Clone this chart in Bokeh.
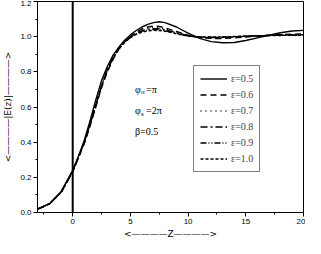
from bokeh.plotting import figure
from bokeh.models import Span, Legend, LegendItem, Range1d, FixedTicker, ColumnDataSource, Title
from bokeh.core.properties import value
from bokeh.embed import file_html
from bokeh.resources import INLINE

# ---- data ----
z = [-3, -2, -1, 0, 0.5, 1, 1.5, 2, 2.5, 3, 3.5, 4, 4.5, 5, 5.5, 6, 6.5, 7, 7.5, 8,
     9, 10, 11, 12, 13, 14, 15, 16, 17, 18, 19, 20]

e05 = [0.02, 0.05, 0.12, 0.24, 0.32, 0.41, 0.52, 0.64, 0.75, 0.83, 0.895, 0.94, 0.98, 1.01, 1.035,
       1.055, 1.07, 1.08, 1.085, 1.08, 1.055, 1.02, 0.99, 0.972, 0.965, 0.967, 0.978, 0.993,
       1.008, 1.022, 1.032, 1.036]
e06 = [0.02, 0.05, 0.115, 0.23, 0.31, 0.39, 0.49, 0.60, 0.71, 0.80, 0.87, 0.93, 0.97, 1.0, 1.025,
       1.045, 1.055, 1.06, 1.058, 1.05, 1.03, 1.008, 0.995, 0.99, 0.99, 0.993, 0.998, 1.003,
       1.008, 1.012, 1.014, 1.015]
e07 = [0.02, 0.05, 0.115, 0.235, 0.315, 0.40, 0.50, 0.61, 0.72, 0.81, 0.88, 0.935, 0.975, 1.0, 1.02,
       1.038, 1.048, 1.052, 1.05, 1.044, 1.025, 1.006, 0.996, 0.993, 0.994, 0.997, 1.001, 1.005,
       1.008, 1.010, 1.011, 1.012]
e08 = [0.02, 0.05, 0.115, 0.235, 0.315, 0.40, 0.50, 0.61, 0.72, 0.81, 0.88, 0.933, 0.972, 0.998, 1.018,
       1.034, 1.043, 1.046, 1.045, 1.04, 1.022, 1.005, 0.997, 0.995, 0.996, 0.999, 1.002, 1.005,
       1.007, 1.009, 1.010, 1.010]
e09 = [0.02, 0.05, 0.115, 0.235, 0.315, 0.40, 0.50, 0.61, 0.72, 0.81, 0.88, 0.932, 0.97, 0.996, 1.016,
       1.03, 1.038, 1.041, 1.04, 1.035, 1.019, 1.004, 0.998, 0.997, 0.998, 1.0, 1.003, 1.005,
       1.007, 1.008, 1.009, 1.009]
e10 = [0.02, 0.05, 0.115, 0.235, 0.315, 0.40, 0.50, 0.61, 0.72, 0.81, 0.88, 0.93, 0.968, 0.994, 1.013,
       1.026, 1.033, 1.036, 1.035, 1.031, 1.016, 1.003, 0.998, 0.998, 0.999, 1.001, 1.003, 1.005,
       1.006, 1.007, 1.008, 1.008]

series = [e05, e06, e07, e08, e09, e10]
labels = ["ε=0.5", "ε=0.6", "ε=0.7", "ε=0.8", "ε=0.9", "ε=1.0"]
dashes = ["solid", "6 4", "1 4", "7 3 2 3", "6 2 1 2 1 2", "3 2"]

x_ticks = [0, 5, 10, 15, 20]
y_ticks = [0.0, 0.2, 0.4, 0.6, 0.8, 1.0, 1.2]
y_tick_labels = ["0.0", "0.2", "0.4", "0.6", "0.8", "1.0", "1.2"]

ann_x = [5.4, 5.4, 5.4]
ann_y = [0.70, 0.58, 0.46]
ann_main = ["φ", "φ", "β=0.5"]
ann_sub = ["σ", "s"]
ann_rest = ["=π", "=2π"]

p = figure(width=305, height=238, x_range=Range1d(-3.05, 20), y_range=Range1d(0, 1.2),
           output_backend="svg", toolbar_location=None,
           min_border_left=26, min_border_right=2, min_border_top=1, min_border_bottom=0)

p.xgrid.visible = False
p.ygrid.visible = False
p.outline_line_color = "black"
p.outline_line_width = 1
p.background_fill_color = "white"
p.border_fill_color = "white"

for ax in (p.xaxis[0], p.yaxis[0]):
    ax.axis_line_color = "black"
    ax.major_tick_in = 0
    ax.major_tick_out = 4
    ax.minor_tick_in = 0
    ax.minor_tick_out = 2
    ax.major_label_text_font = "Liberation Sans"
    ax.major_label_text_font_size = "8px"
    ax.major_label_text_color = "black"
    ax.axis_label_text_font = "DejaVu Sans"
    ax.axis_label_text_font_style = "normal"
    ax.axis_label_text_font_size = "9px"
    ax.axis_label_text_color = "black"
    ax.major_label_standoff = 2

p.xaxis.ticker = FixedTicker(ticks=x_ticks, minor_ticks=[-2.5, 2.5, 7.5, 12.5, 17.5])
p.yaxis.ticker = FixedTicker(ticks=y_ticks, minor_ticks=[0.1, 0.3, 0.5, 0.7, 0.9, 1.1])
p.yaxis.major_label_overrides = {t: l for t, l in zip(y_ticks, y_tick_labels)}
p.yaxis.axis_label = "<————|E(z)|————>"
p.yaxis.axis_label_standoff = 4
p.xaxis.major_label_standoff = 2

xlab = Title(text="<————Z————>", align="center", text_font="DejaVu Sans",
             text_font_size="9px", text_font_style="normal", text_color="black",
             standoff=0, offset=-10)
p.add_layout(xlab, "below")

p.add_layout(Span(location=0, dimension="height", line_color="black", line_width=2))

items = []
for s, lab, d in zip(series, labels, dashes):
    r = p.line(z, s, line_color="black", line_width=1.4, line_dash=d)
    items.append(LegendItem(label=lab, renderers=[r]))

legend = Legend(items=items, location=(156, 40), glyph_width=27, glyph_height=13,
                label_height=13, spacing=3, padding=6, margin=0, label_standoff=4,
                label_text_font="Liberation Serif", label_text_font_size="10px",
                border_line_color="black", border_line_width=1, background_fill_alpha=0)
p.add_layout(legend)

src_main = ColumnDataSource(dict(x=ann_x, y=ann_y, t=ann_main))
src_sub = ColumnDataSource(dict(x=ann_x[:2], y=ann_y[:2], s=ann_sub, r=ann_rest))
font = value("Liberation Serif")
p.text(x="x", y="y", text="t", source=src_main, text_font=font, text_font_size="10px",
       text_baseline="middle", text_align="left", text_color="black")
p.text(x="x", y="y", text="s", source=src_sub, text_font=font, text_font_size="7px",
       text_baseline="middle", text_align="left", x_offset=6, y_offset=3, text_color="black")
p.text(x="x", y="y", text="r", source=src_sub, text_font=font, text_font_size="10px",
       text_baseline="middle", text_align="left", x_offset=11, text_color="black")

open("out.html", "w").write(file_html(p, INLINE))
